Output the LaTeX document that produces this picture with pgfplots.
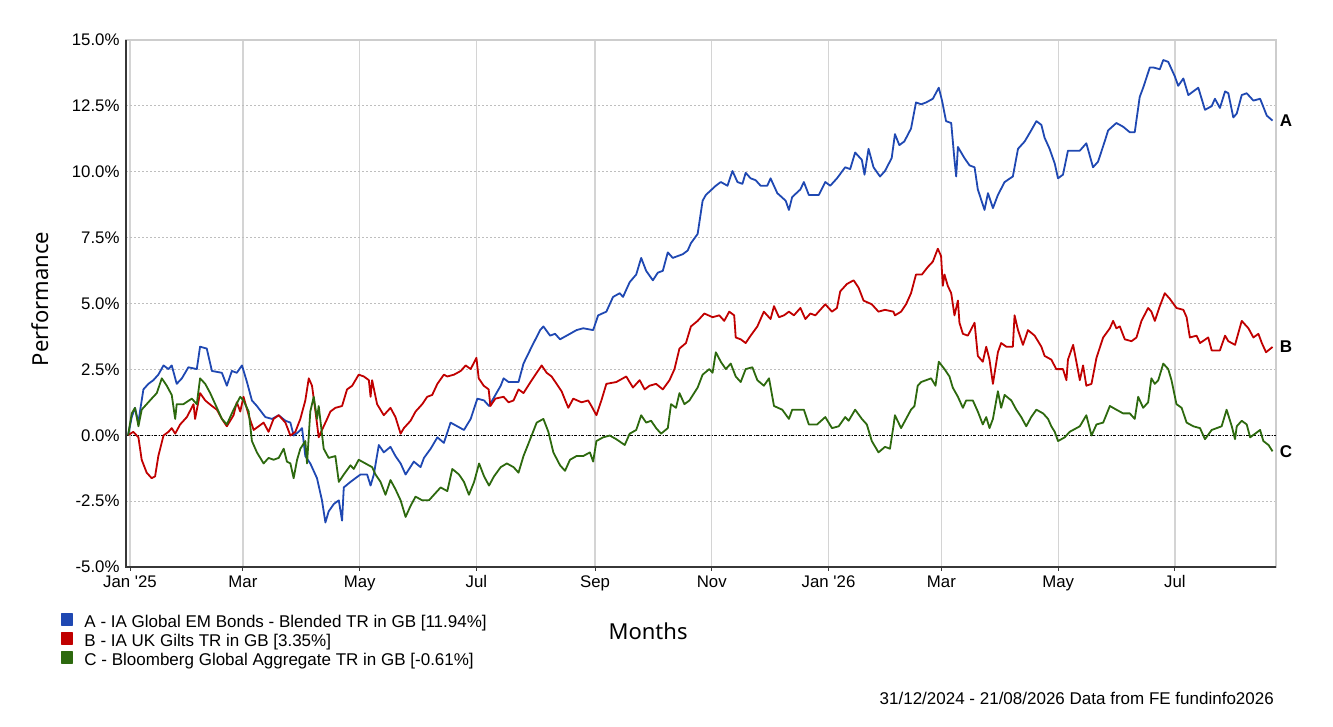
\documentclass[border=0pt]{standalone}
\usepackage{pgfplots}
\pgfplotsset{compat=1.18}
\usepackage{fontspec}
\setmainfont{Liberation Sans}
\newfontfamily\titlefont{Noto Sans}
\definecolor{serA}{RGB}{31,72,178}
\definecolor{serB}{RGB}{192,0,0}
\definecolor{serC}{RGB}{45,105,14}
\definecolor{vgrid}{RGB}{212,212,212}
\definecolor{hgrid}{RGB}{190,190,190}
\definecolor{axdark}{RGB}{55,55,55}
\definecolor{axlight}{RGB}{205,205,205}
\begin{document}
\begin{tikzpicture}
\useasboundingbox (0,0) rectangle (1333bp,727bp);
\begin{axis}[
  at={(126bp,160bp)}, anchor=south west,
  width=1150bp, height=527bp, scale only axis,
  xmin=-1.1, xmax=599.8, ymin=-5, ymax=15,
  clip=false,
  axis line style={axlight, line width=1.2bp},
  xtick={1,60,121,182,244,305,366,425,486,547},
  xticklabels={Jan \textquotesingle 25,Mar,May,Jul,Sep,Nov,Jan \textquotesingle 26,Mar,May,Jul},
  ytick={-5,-2.5,0,2.5,5,7.5,10,12.5,15},
  yticklabels={-5.0\%,-2.5\%,0.0\%,2.5\%,5.0\%,7.5\%,10.0\%,12.5\%,15.0\%},
  xmajorgrids, ymajorgrids,
  x grid style={vgrid, line width=1.3bp},
  y grid style={hgrid, line width=0.9bp, dash pattern=on 2bp off 2bp},
  tick align=outside, xtick pos=bottom, ytick pos=left,
  major tick length=4bp,
  xtick style={axdark, line width=1bp},
  ytick style={draw=none},
  ticklabel style={font=\fontsize{16.8bp}{18bp}\selectfont, text=black},
  yticklabel style={xshift=1bp},
  xticklabel style={yshift=-1bp},
  xlabel={Months}, ylabel={Performance},
  xlabel style={at={(axis description cs:0.454,-0.1214)}, anchor=center, font=\titlefont\fontsize{22bp}{24bp}\selectfont},
  ylabel style={at={(axis description cs:-0.0748,0.5085)}, anchor=center, font=\titlefont\fontsize{22bp}{24bp}\selectfont},
  legend style={at={(axis description cs:-0.0568,-0.0873)}, anchor=north west, draw=none, fill=none, inner sep=0pt, outer sep=0pt,
    font=\fontsize{17bp}{18bp}\selectfont, row sep=0bp,
    nodes={inner sep=0bp, text height=11bp, text depth=4bp},
    /tikz/every odd column/.append style={column sep=11bp}},
  legend cell align=left,
  legend image code/.code={\fill[#1] (0bp,-0.5bp) rectangle (11bp,10.5bp);},
]
\addplot[forget plot, black, line width=0.9bp, dash pattern=on 3bp off 1.5bp on 1bp off 1.5bp] coordinates {(-1.1,0) (599.8,0)};

\addplot[serA, line width=1.8bp, line join=round] coordinates {
(0,0) (1.9,0.69) (3.6,1.04) (5.4,0.48) (6.2,0.90) (8.0,1.74) (10.6,1.95) (13.2,2.09) (15.8,2.30) (18.5,2.65) (21.1,2.51) (22.8,2.65) (25.4,1.95) (28.1,2.16) (31.5,2.58) (35.9,2.51) (37.6,3.36) (41.1,3.29) (43.8,2.44) (49.0,2.37) (51.6,1.88) (54.2,2.44) (56.8,2.37) (59.5,2.65) (62.1,2.02) (64.7,1.32) (67.3,1.11) (71.7,0.69) (75.2,0.62) (78.7,0.76) (82.2,0.55) (84.8,0.48) (86.5,-0.01) (89.1,0.13) (90.9,0.27) (92.6,-0.79) (95.2,-1.07) (98.7,-1.63) (101.3,-2.47) (103.1,-3.31) (104.8,-2.89) (107.5,-2.61) (110.1,-2.47) (111.8,-3.24) (112.7,-1.98) (116.2,-1.77) (121.4,-1.49) (124.9,-1.49) (126.7,-1.91) (128.4,-1.49) (131.0,-0.37) (133.6,-0.65) (137.1,-0.44) (139.7,-0.79) (142.4,-1.07) (145.0,-1.49) (149.3,-1.00) (152.8,-1.21) (154.6,-0.86) (158.1,-0.51) (161.6,-0.08) (165.0,-0.29) (168.5,0.48) (172.0,0.34) (175.5,0.20) (179.0,0.62) (182.5,1.39) (186.0,1.32) (188.6,1.11) (194.7,1.88) (196.2,2.16) (198.8,2.02) (204.0,2.02) (206.6,2.72) (210.9,3.36) (215.3,3.99) (217.0,4.13) (220.5,3.78) (223.1,3.85) (225.7,3.64) (230.9,3.85) (234.3,3.99) (237.8,4.06) (243.0,3.99) (245.6,4.55) (249.9,4.69) (253.4,5.25) (256.9,5.39) (258.6,5.25) (262.1,5.81) (265.5,6.10) (268.1,6.73) (270.7,6.24) (274.2,5.88) (276.8,6.17) (279.4,6.24) (282.0,6.94) (284.6,6.73) (289.8,6.87) (292.4,7.01) (294.1,7.29) (297.6,7.64) (300.2,8.90) (301.9,9.12) (307.1,9.47) (309.7,9.61) (313.2,9.47) (315.8,10.03) (318.4,9.61) (321.0,9.54) (322.7,9.96) (325.3,9.75) (327.9,9.68) (330.5,9.47) (334.0,9.47) (335.7,9.75) (339.2,9.19) (343.6,8.90) (345.3,8.55) (347.0,9.04) (351.3,9.33) (353.1,9.61) (355.7,9.12) (360.9,9.12) (364.3,9.61) (366.9,9.47) (370.4,9.75) (374.7,10.17) (377.3,10.10) (379.9,10.73) (383.4,10.45) (384.8,9.89) (386.9,10.87) (389.5,10.17) (392.9,9.82) (395.5,10.03) (399.0,10.52) (400.7,11.43) (403.0,11.01) (405.6,11.15) (409.1,11.64) (411.7,12.63) (414.4,12.56) (417.0,12.63) (420.5,12.77) (423.6,13.19) (425.3,12.70) (427.4,11.92) (430.1,11.85) (431.8,10.45) (432.7,9.82) (433.6,10.94) (437.0,10.52) (439.7,10.24) (442.3,10.17) (444.0,9.33) (447.5,8.55) (449.3,9.19) (451.9,8.62) (454.5,9.12) (458.0,9.61) (462.3,9.82) (465.0,10.87) (468.5,11.15) (471.9,11.57) (474.6,11.92) (477.2,11.78) (478.9,11.29) (481.5,10.87) (484.2,10.31) (485.9,9.75) (488.5,9.89) (491.1,10.80) (497.3,10.80) (500.7,11.08) (504.2,10.17) (506.8,10.38) (510.3,11.15) (512.1,11.57) (516.4,11.85) (519.9,11.71) (523.4,11.50) (526.0,11.50) (528.6,12.84) (530.4,13.19) (533.9,13.96) (535.6,13.96) (539.1,13.89) (540.9,14.24) (543.5,14.17) (547.0,13.61) (548.7,13.26) (551.4,13.54) (554.0,12.91) (556.6,13.05) (559.2,13.19) (562.7,12.35) (566.2,12.49) (567.9,12.77) (570.5,12.42) (573.2,13.05) (574.9,12.98) (577.5,12.06) (579.3,12.21) (581.9,12.91) (584.5,12.98) (588.0,12.70) (591.5,12.77) (595.0,12.13) (598,11.94)
} node[pos=1, anchor=west, xshift=3bp, text=black, font=\bfseries\fontsize{17bp}{18bp}\selectfont] {A};
\addlegendentry{A - IA Global EM Bonds - Blended TR in GB [11.94\%]}

\addplot[serB, line width=1.8bp, line join=round] coordinates {
(0,0) (2.7,0.13) (5.4,-0.08) (7.1,-0.93) (9.7,-1.42) (12.3,-1.63) (14.1,-1.56) (15.8,-0.79) (18.5,-0.01) (21.1,0.13) (22.8,0.27) (24.6,0.06) (27.2,0.41) (30.7,0.69) (34.2,1.18) (35.0,0.62) (37.6,1.60) (40.3,1.32) (43.8,1.11) (46.4,0.97) (49.0,0.62) (51.6,0.34) (55.1,0.76) (56.8,1.25) (58.6,0.90) (60.3,1.46) (63.0,0.76) (65.6,0.20) (68.2,0.34) (70.8,0.48) (73.4,0.13) (76.0,0.62) (78.7,0.76) (82.2,0.48) (84.8,-0.01) (87.4,0.13) (90.0,0.62) (92.6,1.32) (94.4,2.16) (96.1,1.88) (97.9,0.90) (99.6,-0.08) (101.3,0.20) (104.0,0.62) (105.7,0.90) (108.3,1.04) (111.8,1.11) (114.4,1.74) (117.1,1.88) (120.5,2.30) (123.2,2.23) (125.8,2.09) (126.7,1.46) (127.5,2.09) (130.1,1.18) (133.6,0.76) (137.1,1.04) (139.7,0.69) (142.4,0.06) (144.1,0.27) (147.6,0.55) (150.2,0.90) (153.7,1.18) (156.3,1.46) (158.9,1.53) (161.6,1.95) (165.0,2.30) (166.8,2.23) (170.3,2.30) (173.8,2.44) (176.4,2.65) (179.0,2.51) (182.0,2.94) (183.2,2.16) (185.8,1.88) (188.4,1.74) (189.3,1.11) (191.9,1.39) (196.2,1.46) (198.8,1.25) (201.4,1.32) (204.0,1.74) (206.6,1.60) (210.9,2.09) (216.1,2.65) (218.7,2.37) (221.3,2.23) (223.9,1.95) (226.5,1.67) (230.0,1.04) (232.6,1.39) (236.9,1.25) (240.4,1.32) (242.1,1.11) (244.7,0.76) (247.3,1.32) (249.9,1.95) (255.1,2.02) (260.3,2.23) (263.8,1.81) (267.3,2.09) (269.9,1.74) (272.5,1.88) (275.9,1.95) (279.4,1.74) (282.9,2.09) (285.5,2.51) (288.1,3.29) (291.5,3.50) (294.1,4.13) (297.6,4.34) (301.1,4.62) (305.4,4.48) (308.9,4.55) (311.5,4.34) (314.1,4.69) (316.7,4.55) (317.5,3.71) (320.1,3.64) (322.7,3.50) (325.3,3.78) (328.8,4.13) (332.2,4.69) (335.7,4.41) (337.5,4.90) (340.1,4.48) (342.7,4.55) (345.3,4.69) (347.9,4.55) (351.3,4.83) (353.9,4.41) (356.5,4.62) (359.1,4.55) (364.3,4.97) (367.8,4.69) (370.4,4.83) (372.1,5.46) (375.6,5.74) (379.1,5.88) (381.7,5.60) (384.3,5.11) (388.6,4.97) (392.1,4.69) (395.5,4.76) (399.9,4.69) (400.7,4.55) (403.9,4.69) (406.5,4.97) (409.1,5.39) (411.7,6.10) (414.8,6.10) (417.8,6.38) (420.5,6.59) (423.1,7.08) (424.8,6.80) (425.7,5.67) (426.6,6.10) (428.3,5.67) (430.1,5.39) (431.8,4.55) (433.6,5.11) (434.4,4.27) (436.2,3.85) (438.8,3.78) (442.3,4.27) (444.0,3.01) (446.6,2.79) (448.4,3.36) (450.1,2.87) (451.9,1.95) (454.5,3.15) (456.2,3.50) (458.9,3.36) (462.3,3.36) (463.2,4.55) (465.0,3.99) (467.6,3.43) (470.2,3.99) (473.7,3.78) (477.2,3.36) (478.9,3.01) (482.4,2.87) (485.0,2.51) (488.5,2.51) (490.3,2.09) (491.1,2.87) (493.8,3.43) (495.5,2.79) (497.3,2.09) (499.0,2.65) (500.7,1.88) (503.4,1.95) (506.0,2.94) (509.5,3.71) (513.0,4.06) (514.7,4.34) (516.4,4.06) (518.2,4.13) (520.8,3.64) (524.3,3.57) (526.9,3.71) (529.5,4.34) (533.0,4.83) (534.7,4.69) (536.5,4.34) (539.1,4.90) (541.7,5.39) (544.3,5.18) (547.8,4.83) (551.4,4.76) (553.1,4.48) (554.8,3.71) (558.3,3.78) (560.1,3.50) (564.4,3.71) (566.2,3.22) (570.5,3.22) (573.2,3.78) (574.9,3.57) (578.4,3.43) (581.9,4.34) (585.4,4.06) (588.0,3.71) (590.6,3.85) (592.4,3.50) (594.6,3.15) (598,3.35)
} node[pos=1, anchor=west, xshift=3bp, text=black, font=\bfseries\fontsize{17bp}{18bp}\selectfont] {B};
\addlegendentry{B - IA UK Gilts TR in GB [3.35\%]}

\addplot[serC, line width=1.8bp, line join=round] coordinates {
(0,0) (1.9,0.83) (3.6,1.04) (5.4,0.34) (7.1,0.97) (9.7,1.18) (12.3,1.39) (15.0,1.60) (17.6,2.16) (20.2,1.88) (22.8,1.53) (24.6,0.62) (25.4,1.18) (28.9,1.18) (33.3,1.39) (35.9,1.18) (37.6,2.16) (40.3,1.95) (42.9,1.60) (46.4,1.04) (49.0,0.62) (51.6,0.41) (55.1,0.97) (58.6,1.46) (60.3,1.32) (63.0,0.90) (64.7,-0.22) (67.3,-0.65) (70.8,-1.07) (73.4,-0.86) (76.0,-0.93) (78.7,-0.86) (81.3,-0.51) (83.0,-1.00) (84.8,-1.07) (86.5,-1.63) (88.3,-0.93) (90.0,-0.51) (92.6,-0.22) (93.5,-1.07) (95.2,0.90) (97.0,1.46) (98.7,0.62) (99.6,1.11) (102.2,-0.51) (104.8,-0.86) (108.3,-0.79) (110.1,-1.77) (112.7,-1.49) (116.2,-1.14) (117.9,-1.28) (120.5,-0.93) (124.0,-1.07) (127.5,-1.21) (129.3,-1.49) (131.9,-1.77) (134.5,-2.26) (137.1,-1.70) (139.7,-2.05) (142.4,-2.47) (145.0,-3.10) (147.6,-2.68) (150.2,-2.33) (153.7,-2.47) (157.2,-2.47) (159.8,-2.26) (163.3,-1.98) (166.8,-2.12) (169.4,-1.28) (172.9,-1.49) (175.5,-1.77) (178.1,-2.26) (180.8,-1.77) (183.4,-1.07) (186.0,-1.56) (188.6,-1.91) (191.2,-1.56) (194.7,-1.21) (197.9,-1.07) (201.4,-1.21) (204.0,-1.42) (206.6,-0.79) (210.1,-0.15) (213.5,0.48) (217.0,0.62) (219.6,0.13) (222.2,-0.65) (225.7,-1.14) (228.3,-1.35) (230.9,-0.93) (234.3,-0.79) (237.8,-0.79) (241.3,-0.65) (243.0,-1.00) (244.7,-0.22) (248.2,-0.08) (251.7,-0.01) (255.1,-0.15) (259.5,-0.37) (262.1,0.06) (265.5,0.20) (268.1,0.76) (270.7,0.48) (273.3,0.55) (275.9,0.27) (278.5,0.06) (282.0,0.27) (283.7,1.18) (286.3,1.04) (288.1,1.60) (290.7,1.18) (293.3,1.32) (297.6,1.81) (300.2,2.30) (303.7,2.51) (305.4,2.37) (307.1,3.15) (309.7,2.79) (312.3,2.51) (314.9,2.72) (317.5,2.23) (320.1,2.02) (322.7,2.51) (326.2,2.58) (328.8,2.09) (332.2,1.88) (334.9,2.16) (337.5,1.11) (341.8,0.97) (345.3,0.62) (347.0,0.97) (353.1,0.97) (355.7,0.41) (360.0,0.41) (364.3,0.69) (367.8,0.27) (371.3,0.34) (374.7,0.69) (376.5,0.55) (379.9,0.97) (383.4,0.62) (386.0,0.41) (388.6,-0.22) (392.1,-0.65) (395.5,-0.44) (398.1,-0.51) (399.9,0.34) (400.7,0.76) (403.9,0.27) (406.5,0.62) (409.1,0.97) (410.9,1.11) (412.6,1.88) (414.4,2.02) (417.0,2.09) (419.6,2.16) (421.9,1.88) (423.6,2.79) (426.6,2.51) (429.2,2.23) (430.9,1.81) (433.6,1.46) (436.2,1.04) (437.9,1.32) (441.4,1.32) (444.0,0.90) (446.6,0.41) (448.4,0.69) (450.1,0.27) (451.9,0.62) (454.5,1.67) (456.2,1.04) (458.0,1.53) (461.5,1.32) (464.1,0.97) (466.7,0.69) (469.3,0.34) (471.9,0.69) (474.6,0.97) (478.1,0.83) (480.7,0.62) (482.4,0.34) (484.2,0.13) (485.9,-0.22) (489.4,-0.08) (492.0,0.13) (497.3,0.34) (500.7,0.76) (503.4,-0.01) (506.0,0.41) (509.5,0.48) (513.0,1.11) (516.4,0.97) (519.9,0.83) (523.4,0.83) (526.0,0.62) (527.8,1.46) (530.4,1.04) (533.0,1.25) (534.7,2.16) (536.5,1.95) (538.3,2.09) (540.9,2.72) (543.5,2.51) (545.2,2.09) (547.8,1.18) (550.5,1.04) (553.1,0.48) (556.6,0.34) (560.1,0.27) (562.7,-0.15) (566.2,0.20) (568.8,0.27) (571.4,0.34) (574.0,0.97) (576.7,0.34) (578.4,-0.15) (579.3,0.34) (581.9,0.55) (584.5,0.41) (586.3,-0.08) (588.9,0.06) (591.5,0.20) (593.2,-0.22) (595.9,-0.37) (598,-0.61)
} node[pos=1, anchor=west, xshift=3bp, text=black, font=\bfseries\fontsize{17bp}{18bp}\selectfont] {C};
\addlegendentry{C - Bloomberg Global Aggregate TR in GB [-0.61\%]}
\end{axis}
\draw[axdark, line width=2.2bp] (126bp,687bp) -- (126bp,160bp) -- (1276bp,160bp);
\node[anchor=base east, font=\fontsize{17bp}{18bp}\selectfont, inner sep=0pt] at (1274bp,23bp) {31/12/2024 - 21/08/2026 Data from FE fundinfo2026};
\end{tikzpicture}
\end{document}
